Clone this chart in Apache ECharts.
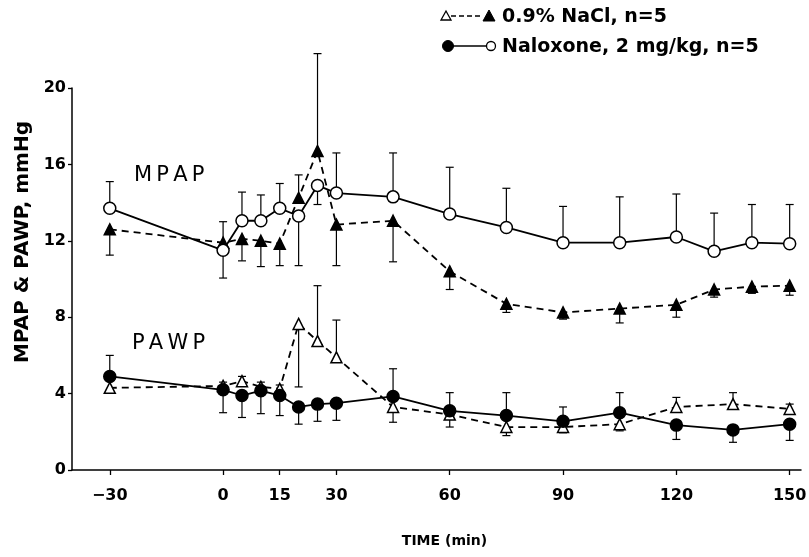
<!DOCTYPE html>
<html>
<head>
<meta charset="utf-8">
<script src="https://cdn.jsdelivr.net/npm/echarts@6/dist/echarts.min.js"></script>
<style>
  html, body { margin: 0; padding: 0; background: #fff; }
  #chart { width: 809px; height: 557px; }
</style>
</head>
<body>
<div id="chart"></div>
<script>
// time points (min)
const mpapTimes = [-30, 0, 5, 10, 15, 20, 25, 30, 45, 60, 75, 90, 105, 120, 130, 140, 150];
const pawpTimes = [-30, 0, 5, 10, 15, 20, 25, 30, 45, 60, 75, 90, 105, 120, 135, 150];
const xTicks = [-30, 0, 15, 30, 60, 90, 120, 150];

// Naloxone, MPAP (open circles) and end of its error bar
const naloxMpap = [13.7, 11.5, 13.05, 13.05, 13.7, 13.3, 14.9, 14.5, 14.3, 13.4, 12.7, 11.9, 11.9, 12.2, 11.45, 11.9, 11.85];
const naloxMpapErr = [15.1, 10.05, 14.55, 14.4, 15.0, 10.7, 13.9, 16.6, 16.6, 15.85, 14.75, 13.8, 14.3, 14.45, 13.45, 13.9, 13.9];

// NaCl, MPAP (filled triangles)
const naclMpap = [12.6, 11.9, 12.1, 12.0, 11.85, 14.25, 16.7, 12.85, 13.05, 10.4, 8.7, 8.25, 8.45, 8.65, 9.45, 9.6, 9.65];
const naclMpapErr = [11.25, 13.0, 10.95, 10.65, 10.7, 15.45, 21.8, 10.7, 10.9, 9.45, 8.25, 7.9, 7.7, 8.0, 9.05, 9.25, 9.15];

// Naloxone, PAWP (filled circles)
const naloxPawp = [4.9, 4.2, 3.9, 4.15, 3.9, 3.3, 3.45, 3.5, 3.85, 3.1, 2.85, 2.55, 3.0, 2.35, 2.1, 2.4];
const naloxPawpErr = [6.0, 3.0, 2.75, 2.95, 2.85, 2.4, 2.55, 2.6, 5.3, 4.05, 4.05, 3.3, 4.05, 1.6, 1.45, 1.55];

// NaCl, PAWP (open triangles)
const naclPawp = [4.3, 4.4, 4.65, 4.35, 4.25, 7.65, 6.75, 5.9, 3.3, 2.9, 2.25, 2.25, 2.4, 3.3, 3.45, 3.2];
const naclPawpErr = [null, 4.6, 4.9, 4.6, 4.45, 4.35, 9.65, 7.85, 2.5, 2.25, 1.8, 1.95, 2.05, 3.8, 4.05, 3.45];

const font = "'DejaVu Sans', Verdana, sans-serif";

function pts(times, vals) {
  return times.map((t, i) => [t, vals[i]]);
}
function errPts(times, vals, ends) {
  const out = [];
  times.forEach((t, i) => {
    if (ends[i] != null) out.push([t, vals[i], ends[i]]);
  });
  return out;
}

function errSeries(data) {
  return {
    type: "custom",
    z: 1,
    silent: true,
    renderItem(params, api) {
      const p0 = api.coord([api.value(0), api.value(1)]);
      const p1 = api.coord([api.value(0), api.value(2)]);
      const style = { stroke: "#000", lineWidth: 1.2 };
      return {
        type: "group",
        children: [
          { type: "line", shape: { x1: p0[0], y1: p0[1], x2: p1[0], y2: p1[1] }, style },
          { type: "line", shape: { x1: p1[0] - 4, y1: p1[1], x2: p1[0] + 4, y2: p1[1] }, style },
        ],
      };
    },
    encode: { x: 0, y: [1, 2] },
    data,
  };
}

function lineSeries(data, symbol, filled, dashed) {
  return {
    type: "line",
    z: 3,
    data,
    symbol,
    symbolSize: symbol === "circle" ? 12 : 11,
    showAllSymbol: true,
    lineStyle: { color: "#000", width: 1.8, type: dashed ? [7, 5] : "solid" },
    itemStyle: { color: filled ? "#000" : "#fff", borderColor: "#000", borderWidth: 1.5 },
    emphasis: { disabled: true },
  };
}

const chart = echarts.init(document.getElementById("chart"));
chart.setOption({
  animation: false,
  backgroundColor: "#fff",
  grid: { left: 72, right: 8, top: 88, bottom: 87, containLabel: false, outerBoundsMode: "none" },
  xAxis: {
    type: "value",
    min: -40,
    max: 153,
    name: "TIME (min)",
    nameLocation: "middle",
    nameGap: 64,
    nameTextStyle: { color: "#000", fontFamily: font, fontSize: 14, fontWeight: "bold", padding: [0, 0, 0, 16] },
    axisLine: { onZero: false, lineStyle: { color: "#000", width: 1.5 } },
    axisTick: { customValues: xTicks, length: 5, lineStyle: { color: "#000", width: 1.3 } },
    axisLabel: {
      customValues: xTicks, margin: 18, color: "#000", fontFamily: font, fontSize: 16, fontWeight: "bold",
      formatter: (v) => String(v).replace("-", "\u2212"),
    },
    splitLine: { show: false },
  },
  yAxis: {
    type: "value",
    min: 0,
    max: 20,
    interval: 4,
    axisLine: { show: true, onZero: false, lineStyle: { color: "#000", width: 1.5 } },
    axisTick: { show: true, length: 4, lineStyle: { color: "#000", width: 1.3 } },
    axisLabel: { margin: 6, color: "#000", fontFamily: font, fontSize: 16, fontWeight: "bold" },
    splitLine: { show: false },
  },
  graphic: [
    // y axis title, sits a little above the middle of the axis
    {
      type: "text", x: 23, y: 242, rotation: Math.PI / 2,
      style: { text: "MPAP & PAWP, mmHg", font: "bold 20px " + font, fill: "#000", align: "center", verticalAlign: "middle" },
    },
    { type: "text", x: 134, y: 176, style: { text: "M\u2009P\u2009A\u2009P", font: "21px " + font, fill: "#000", verticalAlign: "middle" } },
    { type: "text", x: 132, y: 344, style: { text: "P\u2009A\u2009W\u2009P", font: "21px " + font, fill: "#000", verticalAlign: "middle" } },
    // legend row 1
    { type: "line", shape: { x1: 451, y1: 16, x2: 483, y2: 16 }, style: { stroke: "#000", lineWidth: 1.5, lineDash: [5, 3] } },
    { type: "polygon", shape: { points: [[446, 11], [441, 20], [451, 20]] }, style: { fill: "#fff", stroke: "#000", lineWidth: 1.3 } },
    { type: "polygon", shape: { points: [[489, 10], [483, 21], [495, 21]] }, style: { fill: "#000", stroke: "#000", lineWidth: 1 } },
    { type: "text", x: 502, y: 17, style: { text: "0.9% NaCl, n=5", font: "bold 19px " + font, fill: "#000", verticalAlign: "middle" } },
    // legend row 2
    { type: "line", shape: { x1: 452, y1: 46, x2: 487, y2: 46 }, style: { stroke: "#000", lineWidth: 1.5 } },
    { type: "circle", shape: { cx: 448, cy: 46, r: 5.5 }, style: { fill: "#000", stroke: "#000" } },
    { type: "circle", shape: { cx: 491, cy: 46, r: 4.5 }, style: { fill: "#fff", stroke: "#000", lineWidth: 1.3 } },
    { type: "text", x: 502, y: 47, style: { text: "Naloxone, 2 mg/kg, n=5", font: "bold 19px " + font, fill: "#000", verticalAlign: "middle" } },
  ],
  series: [
    errSeries(errPts(mpapTimes, naloxMpap, naloxMpapErr)),
    errSeries(errPts(mpapTimes, naclMpap, naclMpapErr)),
    errSeries(errPts(pawpTimes, naloxPawp, naloxPawpErr)),
    errSeries(errPts(pawpTimes, naclPawp, naclPawpErr)),
    lineSeries(pts(mpapTimes, naclMpap), "triangle", true, true),
    lineSeries(pts(pawpTimes, naclPawp), "triangle", false, true),
    lineSeries(pts(mpapTimes, naloxMpap), "circle", false, false),
    lineSeries(pts(pawpTimes, naloxPawp), "circle", true, false),
  ],
});
</script>
</body>
</html>
